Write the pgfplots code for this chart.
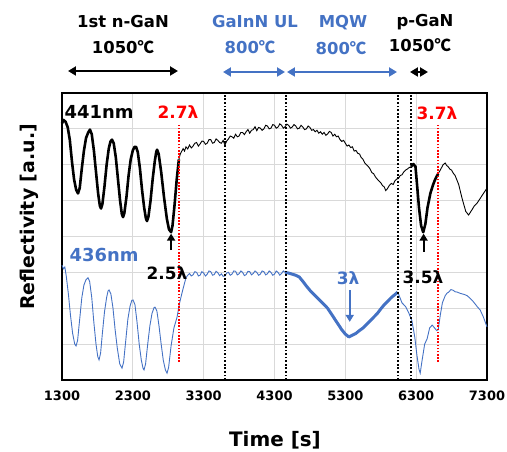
\documentclass[border=0pt]{standalone}
\usepackage{pgfplots}
\pgfplotsset{compat=1.18}
\usetikzlibrary{arrows.meta}
\usepackage{fontspec}
\setmainfont{DejaVu Sans}
\newfontfamily\cjk{Noto Sans CJK KR}
\newcommand{\degc}{{\cjk ℃}}
\definecolor{refBlue}{HTML}{4472C4}
\definecolor{refRed}{HTML}{FF0000}
\definecolor{refGrid}{HTML}{D9D9D9}
\tikzset{
  vdot/.style={line width=2pt, dash pattern=on 1.8pt off 1.8pt, black},
  rdot/.style={line width=1.8pt, dash pattern=on 1.6pt off 1.6pt, refRed},
  dbl/.style={{Triangle[length=8pt,width=9pt]}-{Triangle[length=8pt,width=9pt]}, line width=2.4pt},
  upa/.style={-{Triangle[length=7pt,width=8pt]}, line width=2.2pt},
}
\begin{document}
\begin{tikzpicture}
\useasboundingbox (-62bp,-72bp) rectangle (445bp,380bp);
\begin{axis}[
  scale only axis, width=425bp, height=287bp,
  at={(0,0)}, anchor=south west,
  xmin=1300, xmax=7300, ymin=0, ymax=8,
  xtick={1300,2300,3300,4300,5300,6300,7300},
  xticklabels={1300,2300,3300,4300,5300,6300,7300},
  ytick={0,1,...,8}, yticklabels={},
  major tick length=0pt,
  xticklabel style={font=\fontsize{13}{15}\selectfont\bfseries, yshift=-7bp},
  grid=major, grid style={refGrid, line width=1.2pt},
  axis line style={line width=1.3pt},
  clip=false,
]
% 441 nm, thick oscillation part
\addplot[black, line width=2.6pt, line join=round] coordinates {
(1300,7.15)(1320,7.25)(1350,7.2)(1380,7.05)(1410,6.7)(1440,6.1)(1470,5.6)(1500,5.3)(1526,5.2)(1550,5.35)
(1580,5.9)(1610,6.4)(1640,6.75)(1670,6.9)(1695,6.98)(1720,6.85)(1750,6.4)(1780,5.8)(1810,5.2)(1835,4.85)
(1851,4.78)(1870,4.9)(1900,5.4)(1930,6.0)(1960,6.45)(1985,6.65)(2006,6.7)(2030,6.6)(2060,6.2)(2090,5.6)
(2120,5.0)(2145,4.62)(2162,4.54)(2180,4.65)(2210,5.1)(2240,5.7)(2270,6.15)(2300,6.4)(2325,6.5)(2345,6.5)
(2370,6.35)(2400,5.9)(2430,5.3)(2460,4.8)(2485,4.5)(2500,4.43)(2520,4.55)(2550,5.0)(2580,5.6)(2610,6.1)
(2630,6.35)(2642,6.42)(2665,6.3)(2700,5.8)(2740,5.1)(2780,4.5)(2810,4.2)(2840,4.12)(2860,4.3)(2890,4.9)
(2920,5.6)(2950,6.15)};
% 441 nm, thin part
\addplot[black, line width=0.9pt] coordinates {
(2950,6.15)(2970,6.3)(3010,6.45)(3030,6.38)(3050,6.5)(3075,6.44)(3100,6.55)(3125,6.47)(3150,6.52)(3175,6.6)
(3200,6.62)(3225,6.52)(3250,6.58)(3275,6.66)(3300,6.65)(3325,6.57)(3350,6.6)(3375,6.7)(3400,6.7)(3425,6.6)
(3450,6.62)(3475,6.72)(3500,6.68)(3525,6.62)(3550,6.6)(3575,6.68)(3600,6.55)(3625,6.66)(3650,6.72)(3675,6.8)
(3700,6.78)(3725,6.74)(3750,6.85)(3775,6.78)(3800,6.8)(3825,6.9)(3850,6.9)(3875,6.84)(3900,6.92)(3925,6.98)
(3950,6.88)(3975,6.96)(4000,6.98)(4025,7.06)(4050,6.95)(4075,7.04)(4100,7.02)(4125,6.96)(4150,7.0)(4175,7.1)
(4200,7.08)(4225,7.0)(4250,7.02)(4275,7.12)(4300,7.1)(4325,7.02)(4350,7.05)(4375,7.14)(4400,7.1)(4425,7.02)
(4450,7.06)(4475,7.13)(4500,7.1)(4525,7.02)(4550,7.05)(4575,7.12)(4600,7.08)(4625,7.0)(4650,7.02)(4675,7.1)
(4700,7.05)(4725,6.98)(4750,7.0)(4775,7.08)(4800,7.04)(4825,6.96)(4850,6.98)(4875,6.92)(4900,6.96)(4925,6.88)
(4950,6.92)(4975,6.85)(5000,6.9)(5025,6.82)(5050,6.86)(5075,6.93)(5100,6.9)(5125,6.8)(5150,6.85)(5175,6.78)
(5200,6.8)(5225,6.7)(5250,6.65)(5275,6.68)(5300,6.6)(5325,6.52)(5350,6.55)(5375,6.48)(5400,6.5)(5425,6.38)
(5450,6.4)(5475,6.32)(5500,6.3)(5525,6.2)(5550,6.15)(5575,6.05)(5600,6.0)(5625,5.95)(5650,5.88)(5675,5.78)
(5700,5.75)(5725,5.66)(5750,5.6)(5775,5.55)(5800,5.5)(5825,5.42)(5850,5.38)(5870,5.28)(5890,5.32)(5920,5.42)
(5950,5.48)(5975,5.45)(6000,5.55)(6025,5.6)(6050,5.62)(6075,5.7)(6100,5.72)(6125,5.8)(6150,5.85)(6175,5.88)
(6200,5.92)(6230,5.95)};
% 441 nm, thick p-GaN dip
\addplot[black, line width=2.6pt, line join=round] coordinates {
(6230,5.95)(6260,6.02)(6290,5.95)(6310,5.5)(6340,4.8)(6370,4.3)(6400,4.12)(6430,4.35)(6460,4.8)(6500,5.2)
(6540,5.45)(6570,5.6)(6610,5.75)};
% 441 nm, thin tail
\addplot[black, line width=0.9pt] coordinates {
(6610,5.75)(6640,5.85)(6680,6.0)(6710,6.05)(6730,5.98)(6750,5.95)(6775,5.88)(6800,5.85)(6825,5.76)(6850,5.7)
(6900,5.45)(6950,5.05)(7000,4.7)(7040,4.6)(7080,4.72)(7120,4.85)(7160,4.93)(7200,5.05)(7250,5.2)(7300,5.35)};
% 436 nm, thin part
\addplot[refBlue, line width=0.9pt] coordinates {
(1300,3.2)(1320,3.1)(1340,3.15)(1360,2.9)(1390,2.4)(1420,1.8)(1450,1.3)(1480,1.0)(1498,0.95)(1520,1.1)
(1550,1.7)(1580,2.3)(1610,2.65)(1640,2.8)(1667,2.85)(1690,2.75)(1720,2.3)(1750,1.6)(1780,1.0)(1805,0.65)
(1823,0.56)(1845,0.75)(1870,1.3)(1900,1.9)(1930,2.3)(1950,2.48)(1964,2.51)(1990,2.4)(2020,2.0)(2050,1.4)
(2080,0.9)(2115,0.45)(2147,0.33)(2170,0.5)(2200,1.1)(2230,1.7)(2260,2.05)(2285,2.22)(2303,2.23)(2330,2.1)
(2360,1.6)(2390,1.0)(2420,0.55)(2445,0.32)(2458,0.28)(2480,0.45)(2510,1.0)(2540,1.5)(2570,1.85)(2600,2.02)
(2614,2.03)(2640,1.92)(2670,1.5)(2700,1.0)(2730,0.55)(2760,0.28)(2783,0.19)(2805,0.35)(2840,0.95)(2880,1.45)
(2924,1.75)(2960,2.15)(3010,2.55)(3050,2.85)(3075,2.92)(3100,2.97)(3125,2.9)(3150,2.93)(3175,3.02)(3200,3.0)
(3225,2.9)(3250,2.92)(3275,3.02)(3300,2.98)(3325,2.9)(3350,2.95)(3375,3.04)(3400,3.02)(3425,2.92)(3450,2.94)
(3475,3.03)(3500,2.99)(3525,2.91)(3550,2.96)(3575,2.89)(3600,2.9)(3625,2.98)(3650,3.0)(3675,2.92)(3700,2.95)
(3725,3.04)(3750,3.03)(3775,2.93)(3800,2.96)(3825,3.04)(3850,3.0)(3875,2.91)(3900,2.94)(3925,3.03)(3950,3.02)
(3975,2.93)(4000,2.97)(4025,3.04)(4050,3.0)(4075,2.92)(4100,2.95)(4125,3.04)(4150,3.02)(4175,2.93)(4200,2.96)
(4225,3.04)(4250,3.0)(4275,2.92)(4300,2.95)(4325,3.04)(4350,3.0)(4375,2.92)(4400,2.97)(4425,3.04)(4450,3.0)};
% 436 nm, thick MQW part
\addplot[refBlue, line width=3pt, line join=round] coordinates {
(4450,3.0)(4500,2.98)(4550,2.95)(4600,2.92)(4650,2.87)(4700,2.75)(4750,2.62)(4800,2.5)(4850,2.4)(4900,2.3)
(4950,2.2)(5000,2.1)(5050,2.0)(5100,1.85)(5150,1.7)(5200,1.55)(5250,1.4)(5300,1.28)(5350,1.2)(5400,1.25)
(5450,1.3)(5500,1.38)(5550,1.45)(5600,1.55)(5650,1.65)(5700,1.75)(5750,1.85)(5800,1.98)(5850,2.1)(5900,2.2)
(5950,2.3)(6000,2.38)(6040,2.45)};
% 436 nm, thin tail
\addplot[refBlue, line width=0.9pt] coordinates {
(6040,2.45)(6060,2.35)(6100,2.15)(6150,2.05)(6200,1.85)(6240,1.65)(6280,1.2)(6310,0.7)(6340,0.3)(6357,0.19)
(6380,0.5)(6420,1.0)(6455,1.15)(6490,1.45)(6526,1.53)(6560,1.45)(6590,1.38)(6611,1.4)(6640,1.8)(6670,2.15)
(6710,2.35)(6735,2.42)(6760,2.45)(6790,2.52)(6823,2.5)(6850,2.46)(6880,2.45)(6915,2.42)(6950,2.4)(6985,2.38)
(7020,2.35)(7060,2.28)(7100,2.2)(7160,2.05)(7204,1.95)(7250,1.75)(7300,1.48)};
% boundaries
\addplot[vdot] coordinates {(3600,0)(3600,8)};
\addplot[vdot] coordinates {(4460,0)(4460,8)};
\addplot[vdot] coordinates {(6050,0)(6050,8)};
\addplot[vdot] coordinates {(6230,0)(6230,8)};
\addplot[rdot] coordinates {(2950,0.5)(2950,7.1)};
\addplot[rdot] coordinates {(6610,0.5)(6610,7.1)};
% annotations
\draw[upa] (axis cs:2840,3.62) -- (axis cs:2840,4.08);
\draw[upa] (axis cs:6405,3.58) -- (axis cs:6405,4.08);
\draw[upa, refBlue] (axis cs:5362,2.5) -- (axis cs:5362,1.62);
\node[anchor=west, inner sep=0pt, font=\fontsize{18}{20}\selectfont\bfseries] at (axis cs:1335,7.47) {441nm};
\node[inner sep=0pt, text=refRed, font=\fontsize{17}{20}\selectfont\bfseries] at (axis cs:2938,7.47) {2.7λ};
\node[inner sep=0pt, text=refRed, font=\fontsize{17}{20}\selectfont\bfseries] at (axis cs:6594,7.44) {3.7λ};
\node[anchor=west, inner sep=0pt, text=refBlue, font=\fontsize{18}{20}\selectfont\bfseries] at (axis cs:1405,3.48) {436nm};
\node[inner sep=0pt, font=\fontsize{17}{20}\selectfont\bfseries] at (axis cs:2783,2.98) {2.5λ};
\node[inner sep=0pt, text=refBlue, font=\fontsize{17}{20}\selectfont\bfseries] at (axis cs:5338,2.84) {3λ};
\node[inner sep=0pt, font=\fontsize{17}{20}\selectfont\bfseries] at (axis cs:6397,2.87) {3.5λ};
\end{axis}
% axis titles
\node[font=\fontsize{20}{22}\selectfont\bfseries] at (213bp,-60bp) {Time [s]};
\node[rotate=90, font=\fontsize{19}{22}\selectfont\bfseries] at (-33bp,163bp) {Reflectivity [a.u.]};
% growth steps above the axis
\begin{scope}[font=\fontsize{16.5}{19}\selectfont\bfseries, inner sep=0pt]
\node at (61bp,358bp) {1st n-GaN};
\node at (61bp,333bp) {1050\degc};
\draw[dbl] (6bp,309bp) -- (116bp,309bp);
\node[text=refBlue] at (193bp,358bp) {GaInN UL};
\node[text=refBlue] at (188bp,333bp) {800\degc};
\draw[dbl, refBlue] (161bp,308bp) -- (223bp,308bp);
\node[text=refBlue] at (281bp,357bp) {MQW};
\node[text=refBlue] at (279bp,332bp) {800\degc};
\draw[dbl, refBlue] (225bp,308bp) -- (335bp,308bp);
\node at (363bp,358bp) {p-GaN};
\node at (358bp,335bp) {1050\degc};
\draw[dbl] (348bp,308bp) -- (366bp,308bp);
\end{scope}
\end{tikzpicture}
\end{document}
